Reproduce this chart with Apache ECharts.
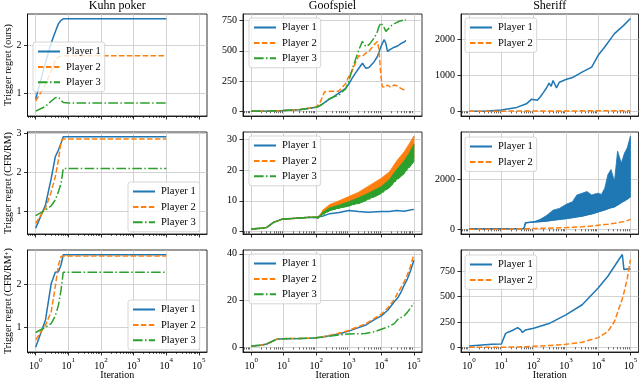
<!DOCTYPE html>
<html>
<head>
<meta charset="utf-8">
<script src="https://cdn.jsdelivr.net/npm/echarts@6/dist/echarts.min.js"></script>
<style>
html, body { margin: 0; padding: 0; background: #fff; }
#chart { width: 640px; height: 379px; }
</style>
</head>
<body>
<div id="chart"></div>
<script>
const FONT = '"Liberation Serif", "DejaVu Serif", serif';
const games = ['Kuhn poker', 'Goofspiel', 'Sheriff'];
const yNames = ['Trigger regret (ours)', 'Trigger regret (CFR/RM)', 'Trigger regret (CFR/RM{s|+})'];
const players = ['Player 1', 'Player 2', 'Player 3'];
const colors = ['#1f77b4', '#ff7f0e', '#2ca02c'];
const dashes = ['solid', [5.5, 2.4], [9.6, 2.4, 1.5, 2.4]];
const xTicks = [1, 10, 100, 1000, 10000, 100000];

// Kuhn poker
const kuhnIter = [1, 2, 3, 4, 5, 6, 7, 8, 10, 100, 1000, 10000];
const kuhnOursP1 = [0.88, 1.64, 2.05, 2.28, 2.45, 2.52, 2.55, 2.55, 2.55, 2.55, 2.55, 2.55];
const kuhnOursP2 = [0.84, 1.19, 1.47, 1.68, 1.76, 1.77, 1.78, 1.78, 1.78, 1.78, 1.78, 1.78];
const kuhnOursP3 = [0.63, 0.73, 0.84, 0.91, 0.92, 0.86, 0.81, 0.80, 0.80, 0.80, 0.80, 0.80];
const kuhnRmP1 = [0.58, 1.17, 1.85, 2.40, 2.57, 2.75, 2.91, 2.91, 2.91, 2.91, 2.91, 2.91];
const kuhnRmP2 = [0.70, 1.09, 1.51, 1.89, 2.32, 2.78, 2.85, 2.85, 2.85, 2.85, 2.85, 2.85];
const kuhnRmP3 = [0.90, 1.04, 1.15, 1.30, 1.51, 1.72, 2.10, 2.10, 2.10, 2.10, 2.10, 2.10];
const kuhnRmpP1 = [0.55, 1.18, 2.02, 2.28, 2.29, 2.45, 2.68, 2.68, 2.68, 2.68, 2.68, 2.68];
const kuhnRmpP2 = [0.72, 1.06, 1.37, 1.95, 2.45, 2.64, 2.65, 2.65, 2.65, 2.65, 2.65, 2.65];
const kuhnRmpP3 = [0.89, 1.01, 1.10, 1.27, 1.52, 1.87, 2.28, 2.28, 2.28, 2.28, 2.28, 2.28];

// Goofspiel
const goofOursIter = [1, 3, 10, 30, 100, 130, 180, 240, 320, 490, 800, 1000, 1260, 1600, 2040, 2630, 2950, 3310, 4170, 4790,
  6030, 7590, 8510, 9770, 10700, 12300, 13800, 15500, 17400, 19500, 21900, 25100, 28200, 31600, 35500, 39800, 45700, 51300, 57500];
const goofOursP1 = [0, 2, 5, 12, 32, 45, 70, 95, 115, 150, 189, 225, 272, 315, 356, 397, 411, 356, 362, 370,
  410, 453, 490, 536, 560, 592, 560, 495, 505, 514, 520, 530, 536, 540, 550, 560, 565, 575, 586];
const goofOursP2 = [0, 2, 5, 12, 35, 70, 160, 162, 165, 165, 230, 286, 330, 400, 460, 455, 465, 480, 495, 510,
  550, 578, 509, 286, 203, 189, 200, 217, 205, 197, 210, 217, 205, 208, 195, 189, 180, 175, 161];
const goofOursP3 = [0, 2, 5, 12, 32, 45, 70, 100, 115, 133, 185, 250, 342, 425, 509, 578, 592, 536, 550, 570,
  606, 660, 703, 731, 717, 690, 661, 675, 689, 700, 717, 725, 731, 738, 745, 748, 753, 756, 759];

const goofRmIter = [1, 2, 3, 5, 9, 32, 63, 100, 112, 160, 260, 500, 1000, 2000, 4000, 10000, 17800, 29500, 50000, 70800, 100000];
const goofRmP1 = [0.8, 1.0, 1.3, 3.0, 4.0, 4.4, 4.6, 4.5, 4.0, 5.0, 5.8, 6.2, 6.8, 6.5, 6.3, 6.5, 6.5, 6.8, 6.6, 6.9, 7.2];
const goofRmP2Lo = [0.8, 1.0, 1.3, 3.0, 4.0, 4.4, 4.6, 4.6, 4.2, 5.8, 7.1, 7.9, 8.7, 9.6, 11.0, 13.0, 15.0, 17.5, 19.8, 22.0, 24.0];
const goofRmP2Hi = [0.8, 1.0, 1.3, 3.0, 4.0, 4.4, 4.6, 4.6, 4.2, 7.0, 8.8, 10.0, 11.4, 12.8, 14.8, 17.4, 19.5, 23.0, 26.0, 28.5, 31.2];
const goofRmP3Lo = [0.8, 1.0, 1.3, 3.0, 4.0, 4.4, 4.6, 4.6, 4.2, 5.5, 6.9, 7.6, 8.4, 9.2, 10.5, 12.5, 14.5, 16.9, 19.0, 21.0, 23.0];
const goofRmP3Hi = [0.8, 1.0, 1.3, 3.0, 4.0, 4.4, 4.6, 4.6, 4.2, 6.3, 7.7, 8.6, 9.7, 11.0, 12.5, 14.7, 17.0, 20.2, 23.0, 25.5, 28.5];

const goofRmpIter = [1, 2, 3, 6, 10, 32, 63, 100, 112, 160, 320, 630, 1000, 2000, 3200, 6300, 10000, 16000, 25000, 32000,
  40000, 50000, 63000, 80000, 100000];
const goofRmpP1 = [0.7, 1.0, 1.5, 3.5, 3.8, 3.9, 4.0, 4.2, 3.6, 4.5, 5.3, 6.2, 7.0, 8.5, 9.5, 12.0, 13.5, 16.0, 19.5, 21.2,
  23.5, 26.5, 29.2, 33.0, 37.2];
const goofRmpP2 = [0.7, 1.0, 1.5, 3.5, 3.8, 3.9, 4.0, 4.2, 3.6, 4.6, 5.5, 6.5, 7.3, 9.0, 10.0, 12.5, 14.2, 17.0, 20.5, 23.3,
  25.5, 28.0, 31.0, 35.0, 39.7];
const goofRmpP3 = [0.7, 1.0, 1.5, 3.5, 3.8, 3.9, 4.0, 4.2, 3.6, 4.5, 5.0, 5.5, 5.8, 5.9, 6.0, 6.8, 7.8, 8.8, 10.2, 12.0,
  12.8, 13.5, 15.0, 17.0, 19.0];

// Sheriff
const sherOursIter = [1, 3, 10, 30, 60, 87, 100, 130, 160, 200, 250, 300, 350, 400, 450, 510, 630, 1000, 1600, 3160,
  6300, 10000, 16000, 32000, 63000, 100000];
const sherOursP1 = [0, 5, 35, 110, 210, 340, 330, 310, 400, 520, 650, 787, 700, 860, 760, 654, 812, 887, 940, 1092,
  1232, 1560, 1790, 2165, 2400, 2587];
const sherOursP2 = [0, 3, 6, 8, 9, 10, 10, 10, 10, 11, 11, 11, 11, 12, 12, 12, 12, 13, 13, 14, 14, 15, 15, 16, 16, 17];

const sherRmIter = [1, 10, 50, 56, 60, 100, 160, 250, 400, 630, 1000, 1600, 2200, 3200, 4500, 6300, 8000, 10000, 12600, 16000,
  20000, 25000, 32000, 40000, 52000, 66000, 80000, 100000];
const sherRmP1Lo = [20, 25, 30, 260, 265, 290, 310, 330, 370, 400, 433, 470, 500, 530, 580, 620, 660, 705, 740, 780,
  830, 870, 907, 980, 1080, 1150, 1220, 1320];
const sherRmP1Hi = [20, 25, 30, 260, 265, 300, 400, 550, 770, 840, 1000, 1110, 1380, 1450, 1515, 1380, 1420, 1450, 1400, 1650,
  2190, 2400, 1930, 3140, 2660, 3070, 3270, 3740];
const sherRmP2 = [0, 5, 20, 22, 23, 35, 40, 45, 55, 62, 70, 80, 90, 100, 115, 130, 140, 160, 175, 190,
  200, 220, 240, 265, 290, 320, 350, 400];

const sherRmpIter = [1, 5, 10, 11, 13.5, 16, 22, 32, 40, 45, 56, 100, 320, 1000, 3200, 10000, 20000, 32000, 56000, 63000, 80000, 100000];
const sherRmpP1 = [13, 30, 33, 35, 135, 149, 166, 195, 172, 146, 172, 189, 238, 321, 420, 585, 701, 800, 916, 767, 773, 773];
const sherRmpP2 = [0, 1, 2, 2, 2, 3, 3, 4, 5, 5, 6, 10, 18, 30, 50, 96, 156, 255, 480, 540, 680, 866];

// axis limits and ticks, [row][col]
const yMin = [[0.53, -40, -129], [0.43, -0.85, -187], [0.44, -1.9, -46]];
const yMax = [[2.65, 805, 2710], [3.03, 32.5, 3904], [2.79, 41.6, 960]];
const yTicks = [
  [[1, 2], [0, 250, 500, 750], [0, 1000, 2000]],
  [[1, 2, 3], [0, 10, 20, 30], [0, 2000]],
  [[1, 2], [0, 20, 40], [0, 250, 500, 750]]
];

const colLeft = [27.5, 243, 461];
const colWidth = [179.5, 179, 177.5];
const rowTop = [14, 132, 250];
const rowHeight = 102;
const legendPos = [
  [[33, 42], [249, 18], [465, 18]],
  [[128, 182], [249, 136], [465, 137]],
  [[128, 300], [249, 254], [465, 255]]
];

const xMin = Math.pow(10, -0.25), xMax = Math.pow(10, 5.25);
const xMinor = [];
for (let e = -1; e <= 5; e++) {
  for (let m = 2; m <= 9; m++) {
    const v = m * Math.pow(10, e);
    if (v > xMin && v < xMax) xMinor.push(v);
  }
}

// lines: [player, iters, values]; bands: [player, iters, lo, hi]
const panels = [
  [
    { lines: [[0, kuhnIter, kuhnOursP1], [1, kuhnIter, kuhnOursP2], [2, kuhnIter, kuhnOursP3]] },
    { lines: [[0, goofOursIter, goofOursP1], [1, goofOursIter, goofOursP2], [2, goofOursIter, goofOursP3]] },
    { lines: [[0, sherOursIter, sherOursP1], [1, sherOursIter, sherOursP2]] }
  ],
  [
    { lines: [[0, kuhnIter, kuhnRmP1], [1, kuhnIter, kuhnRmP2], [2, kuhnIter, kuhnRmP3]] },
    { lines: [[0, goofRmIter, goofRmP1]],
      bands: [[1, goofRmIter, goofRmP2Lo, goofRmP2Hi], [2, goofRmIter, goofRmP3Lo, goofRmP3Hi]] },
    { bands: [[0, sherRmIter, sherRmP1Lo, sherRmP1Hi]], lines: [[1, sherRmIter, sherRmP2]] }
  ],
  [
    { lines: [[0, kuhnIter, kuhnRmpP1], [1, kuhnIter, kuhnRmpP2], [2, kuhnIter, kuhnRmpP3]] },
    { lines: [[0, goofRmpIter, goofRmpP1], [1, goofRmpIter, goofRmpP2], [2, goofRmpIter, goofRmpP3]] },
    { lines: [[0, sherRmpIter, sherRmpP1], [1, sherRmpIter, sherRmpP2]] }
  ]
];

function pairs(x, y) {
  return x.map((v, i) => [v, y[i]]);
}

const axisCol = '#000';
const gridCol = '#c8c8c8';
const supRich = {
  b: { fontSize: 10, fontFamily: FONT, color: '#000', lineHeight: 14, verticalAlign: 'bottom' },
  s: { fontSize: 7, fontFamily: FONT, color: '#000', lineHeight: 7, verticalAlign: 'top' }
};

const grid = [], xAxis = [], yAxis = [], series = [], legend = [], graphic = [];

for (let r = 0; r < 3; r++) {
  for (let c = 0; c < 3; c++) {
    const g = grid.length;
    grid.push({
      left: colLeft[c], top: rowTop[r], width: colWidth[c], height: rowHeight,
      show: true, borderColor: axisCol, borderWidth: 0.8, outerBoundsMode: 'none'
    });
    const xi = xAxis.length;
    xAxis.push({
      type: 'log', logBase: 10, gridIndex: g, min: xMin, max: xMax, position: 'bottom',
      axisLine: { show: true, onZero: false, lineStyle: { color: axisCol, width: 0.8 } },
      axisTick: { show: true, length: 3.5, customValues: xTicks, lineStyle: { color: axisCol, width: 0.8 } },
      axisLabel: {
        show: r === 2, customValues: xTicks, margin: 5,
        formatter: v => '{b|10}{s|' + Math.round(Math.log10(v)) + '}', rich: supRich
      },
      splitLine: { show: true, lineStyle: { color: gridCol, width: 0.8 } },
      name: r === 2 ? 'Iteration' : '', nameLocation: 'middle', nameGap: 18, nameMoveOverlap: false,
      nameTextStyle: { fontFamily: FONT, fontSize: 10, color: '#000' }
    });
    xAxis.push({
      type: 'log', logBase: 10, gridIndex: g, min: xMin, max: xMax, position: 'bottom',
      axisLine: { show: false },
      axisTick: { show: true, length: 2, customValues: xMinor, lineStyle: { color: axisCol, width: 0.6 } },
      axisLabel: { show: false },
      splitLine: { show: false }
    });
    const yi = yAxis.length;
    yAxis.push({
      type: 'value', gridIndex: g, min: yMin[r][c], max: yMax[r][c],
      axisLine: { show: true, onZero: false, lineStyle: { color: axisCol, width: 0.8 } },
      axisTick: { show: true, length: 3.5, customValues: yTicks[r][c], lineStyle: { color: axisCol, width: 0.8 } },
      axisLabel: { customValues: yTicks[r][c], margin: 6, fontFamily: FONT, fontSize: 10, color: '#000', formatter: v => String(v) },
      splitLine: { show: true, lineStyle: { color: gridCol, width: 0.8 } },
      name: c === 0 ? yNames[r] : '', nameLocation: 'middle', nameRotate: 90, nameGap: 14, nameMoveOverlap: false,
      nameTextStyle: { fontFamily: FONT, fontSize: 10, color: '#000', rich: { s: { fontSize: 7, fontFamily: FONT, verticalAlign: 'top', lineHeight: 7 } } }
    });

    const p = panels[r][c];
    const items = [];
    (p.lines || []).forEach(l => items.push({ kind: 'line', d: l }));
    (p.bands || []).forEach(b => items.push({ kind: 'band', d: b }));
    items.sort((a, b) => a.d[0] - b.d[0]);
    items.forEach(it => {
      const pl = it.d[0];
      const x = it.d[1];
      series.push({
        type: 'line', xAxisIndex: xi, yAxisIndex: yi, symbol: 'none', showSymbol: false,
        color: colors[pl], silent: true, animation: false, z: 2 + pl,
        name: players[pl], data: pairs(x, it.d[2]),
        lineStyle: { color: colors[pl], width: 1.5, type: dashes[pl] }
      });
      if (it.kind === 'band') {
        const lo = it.d[2], hi = it.d[3];
        series.push({
          type: 'custom', xAxisIndex: xi, yAxisIndex: yi, silent: true, animation: false, z: 2 + pl,
          name: 'band ' + pl, clip: true,
          data: [[x[0], lo[0]]],
          renderItem: function (params, api) {
            const pts = [];
            for (let i = 0; i < x.length; i++) pts.push(api.coord([x[i], lo[i]]));
            for (let i = x.length - 1; i >= 0; i--) pts.push(api.coord([x[i], hi[i]]));
            return {
              type: 'polygon', shape: { points: pts },
              style: { fill: colors[pl], stroke: colors[pl], lineWidth: 0.8 }
            };
          }
        });
      }
    });

    const names = c === 2 ? players.slice(0, 2) : players;
    legend.push({
      left: legendPos[r][c][0], top: legendPos[r][c][1], orient: 'vertical',
      data: names, selectedMode: false,
      itemWidth: 22, itemHeight: 10, itemGap: 4.4, padding: [4, 4, 4, 4],
      backgroundColor: 'rgba(255,255,255,0.8)', borderColor: '#cccccc', borderWidth: 0.8, borderRadius: 2.5,
      itemStyle: { opacity: 0 },
      textStyle: { fontFamily: FONT, fontSize: 10.5, color: '#000', padding: [0, 0, 0, 1] }
    });
  }
}

for (let c = 0; c < 3; c++) {
  graphic.push({
    type: 'text', x: colLeft[c] + colWidth[c] / 2, y: 6,
    style: { text: games[c], fontFamily: FONT, fontSize: 12, fill: '#000', textAlign: 'center', textVerticalAlign: 'middle' }
  });
}

const chart = echarts.init(document.getElementById('chart'), null, { renderer: 'canvas' });
chart.setOption({
  animation: false,
  backgroundColor: '#fff',
  grid: grid,
  xAxis: xAxis,
  yAxis: yAxis,
  legend: legend,
  graphic: graphic,
  series: series
});
</script>
</body>
</html>
